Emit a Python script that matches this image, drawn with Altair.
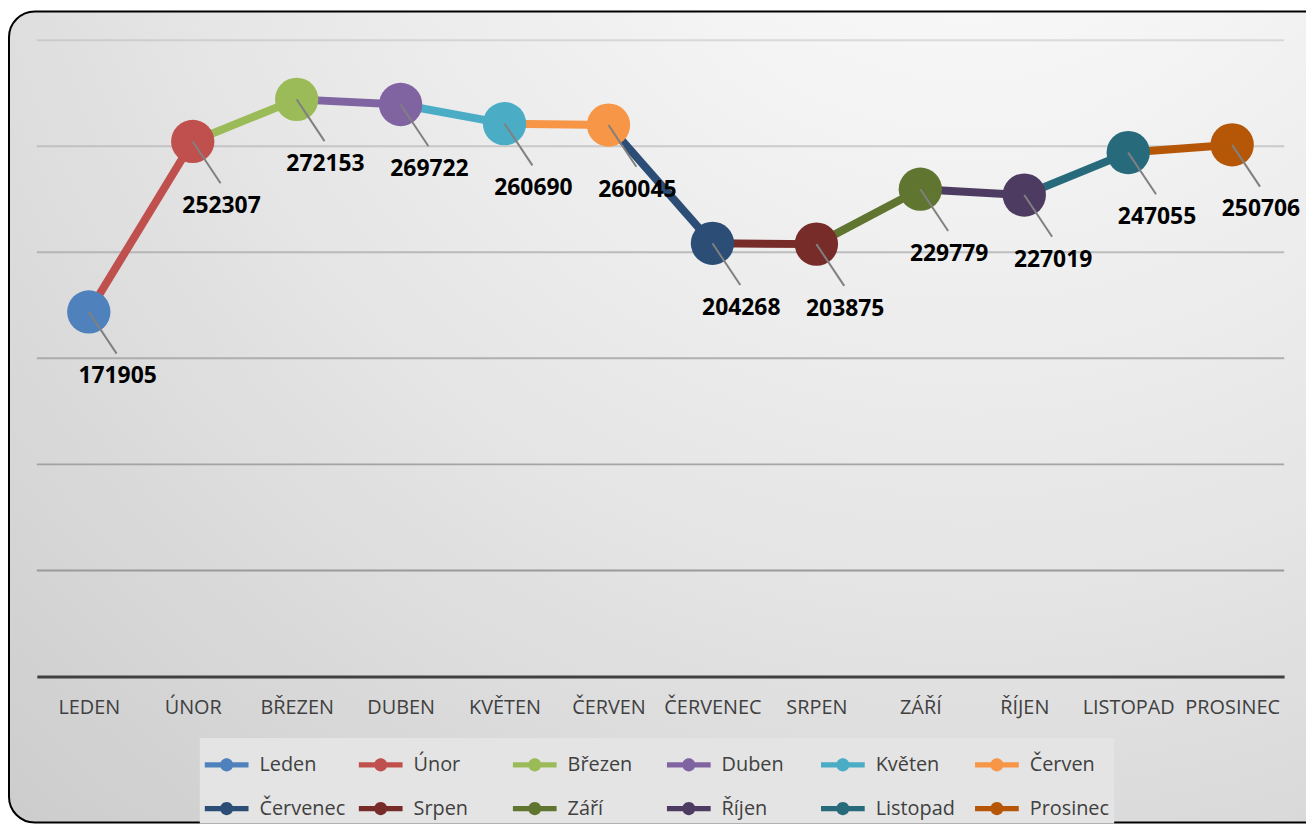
import altair as alt
import pandas as pd

months = ["Leden", "Únor", "Březen", "Duben", "Květen", "Červen",
          "Červenec", "Srpen", "Září", "Říjen", "Listopad", "Prosinec"]
values = [171905, 252307, 272153, 269722, 260690, 260045,
          204268, 203875, 229779, 227019, 247055, 250706]
colors = ["#4F81BD", "#C0504D", "#9BBB59", "#8064A2", "#4BACC6", "#F79646",
          "#2C4D75", "#772C2A", "#5F7530", "#4D3B62", "#276A7C", "#B65708"]
grid_values = [50000, 100000, 150000, 200000, 250000, 300000]

W, H = 1255, 640

df = pd.DataFrame({"month": months, "value": values})
seg = pd.DataFrame({
    "from_month": months[:-1], "from_value": values[:-1],
    "to_month": months[1:], "to_value": values[1:],
    "seg": months[1:],
})
grid = pd.DataFrame({"v": grid_values})

xscale = alt.Scale(type="point", domain=months, padding=0.5)
yscale = alt.Scale(domain=[0, 300000])
x_axis = alt.Axis(title=None, labelAngle=0, labelFont="Open Sans", labelFontSize=20,
                  labelColor="#404040", labelPadding=21, ticks=False, grid=False,
                  domainColor="#404040", domainWidth=3, zindex=1,
                  labelExpr="upper(datum.label)")

bg = alt.Chart(alt.Data(values=[{}])).mark_rect(
    fill=alt.RadialGradient(
        gradient="radial",
        stops=[alt.GradientStop(offset=0, color="#ffffff"),
               alt.GradientStop(offset=0.5, color="#e6e6e6"),
               alt.GradientStop(offset=1, color="#c6c6c6")],
        x1=0.72, y1=0.0, r1=0, x2=0.72, y2=0.0, r2=1.2),
    stroke="#000000", strokeWidth=2, cornerRadius=26,
).encode(x=alt.value(-28), x2=alt.value(W + 60), y=alt.value(-29), y2=alt.value(H + 147))

gridl = alt.Chart(grid).mark_rule(color="#9a9a9a", strokeWidth=2).encode(
    y=alt.Y("v:Q", scale=yscale, axis=None),
    opacity=alt.Opacity("v:Q", scale=alt.Scale(domain=[50000, 300000], range=[1.0, 0.3]), legend=None),
)

lines = alt.Chart(seg).mark_rule(strokeWidth=8).encode(
    x=alt.X("from_month:N", scale=xscale, axis=x_axis),
    x2=alt.X2("to_month"),
    y=alt.Y("from_value:Q", scale=yscale, axis=None),
    y2=alt.Y2("to_value"),
    stroke=alt.Stroke("seg:N", scale=alt.Scale(domain=months, range=colors), legend=None),
)

sym = "M-1,-0.12 L1,-0.12 L1,0.12 L-1,0.12 Z M0.3,0 A0.3,0.3 0 1 1 -0.3,0 A0.3,0.3 0 1 1 0.3,0 Z"

pts = alt.Chart(df).mark_circle(size=1900, opacity=1).encode(
    x=alt.X("month:N", scale=xscale, axis=x_axis),
    y=alt.Y("value:Q", scale=yscale, axis=None),
    color=alt.Color("month:N", scale=alt.Scale(domain=months, range=colors),
                    legend=alt.Legend(title=None, orient="none", direction="horizontal",
                                      legendX=164, legendY=702,
                                      columns=6, symbolType=sym, symbolSize=1936,
                                      symbolStrokeWidth=0, symbolOpacity=1,
                                      labelFont="Open Sans", labelFontSize=20,
                                      labelColor="#404040", labelOffset=11,
                                      columnPadding=13, rowPadding=12, gridAlign="all",
                                      fillColor="#e4e4e4", padding=5, labelLimit=300)),
)

lead = alt.Chart(df).mark_rule(color="#808080", strokeWidth=2, x2Offset=28, y2Offset=42).encode(
    x=alt.X("month:N", scale=xscale, axis=x_axis),
    x2=alt.X2("month"),
    y=alt.Y("value:Q", scale=yscale, axis=None),
    y2=alt.Y2("value"),
)

lab = alt.Chart(df).mark_text(dx=29, dy=65, font="Open Sans", fontSize=23,
                              fontWeight="bold", color="#000000").encode(
    x=alt.X("month:N", scale=xscale, axis=x_axis),
    y=alt.Y("value:Q", scale=yscale, axis=None),
    text=alt.Text("value:Q", format="d"),
)

chart = alt.layer(bg, gridl, lines, pts, lead, lab).resolve_scale(
    color="independent", stroke="independent"
).properties(
    width=W, height=H,
    padding={"left": 29, "top": 30, "right": 22, "bottom": 148},
    autosize=alt.AutoSizeParams(type="none"),
    background="white",
).configure_view(stroke=None)

chart.save("out.html", embed_options={"renderer": "svg", "actions": False})
